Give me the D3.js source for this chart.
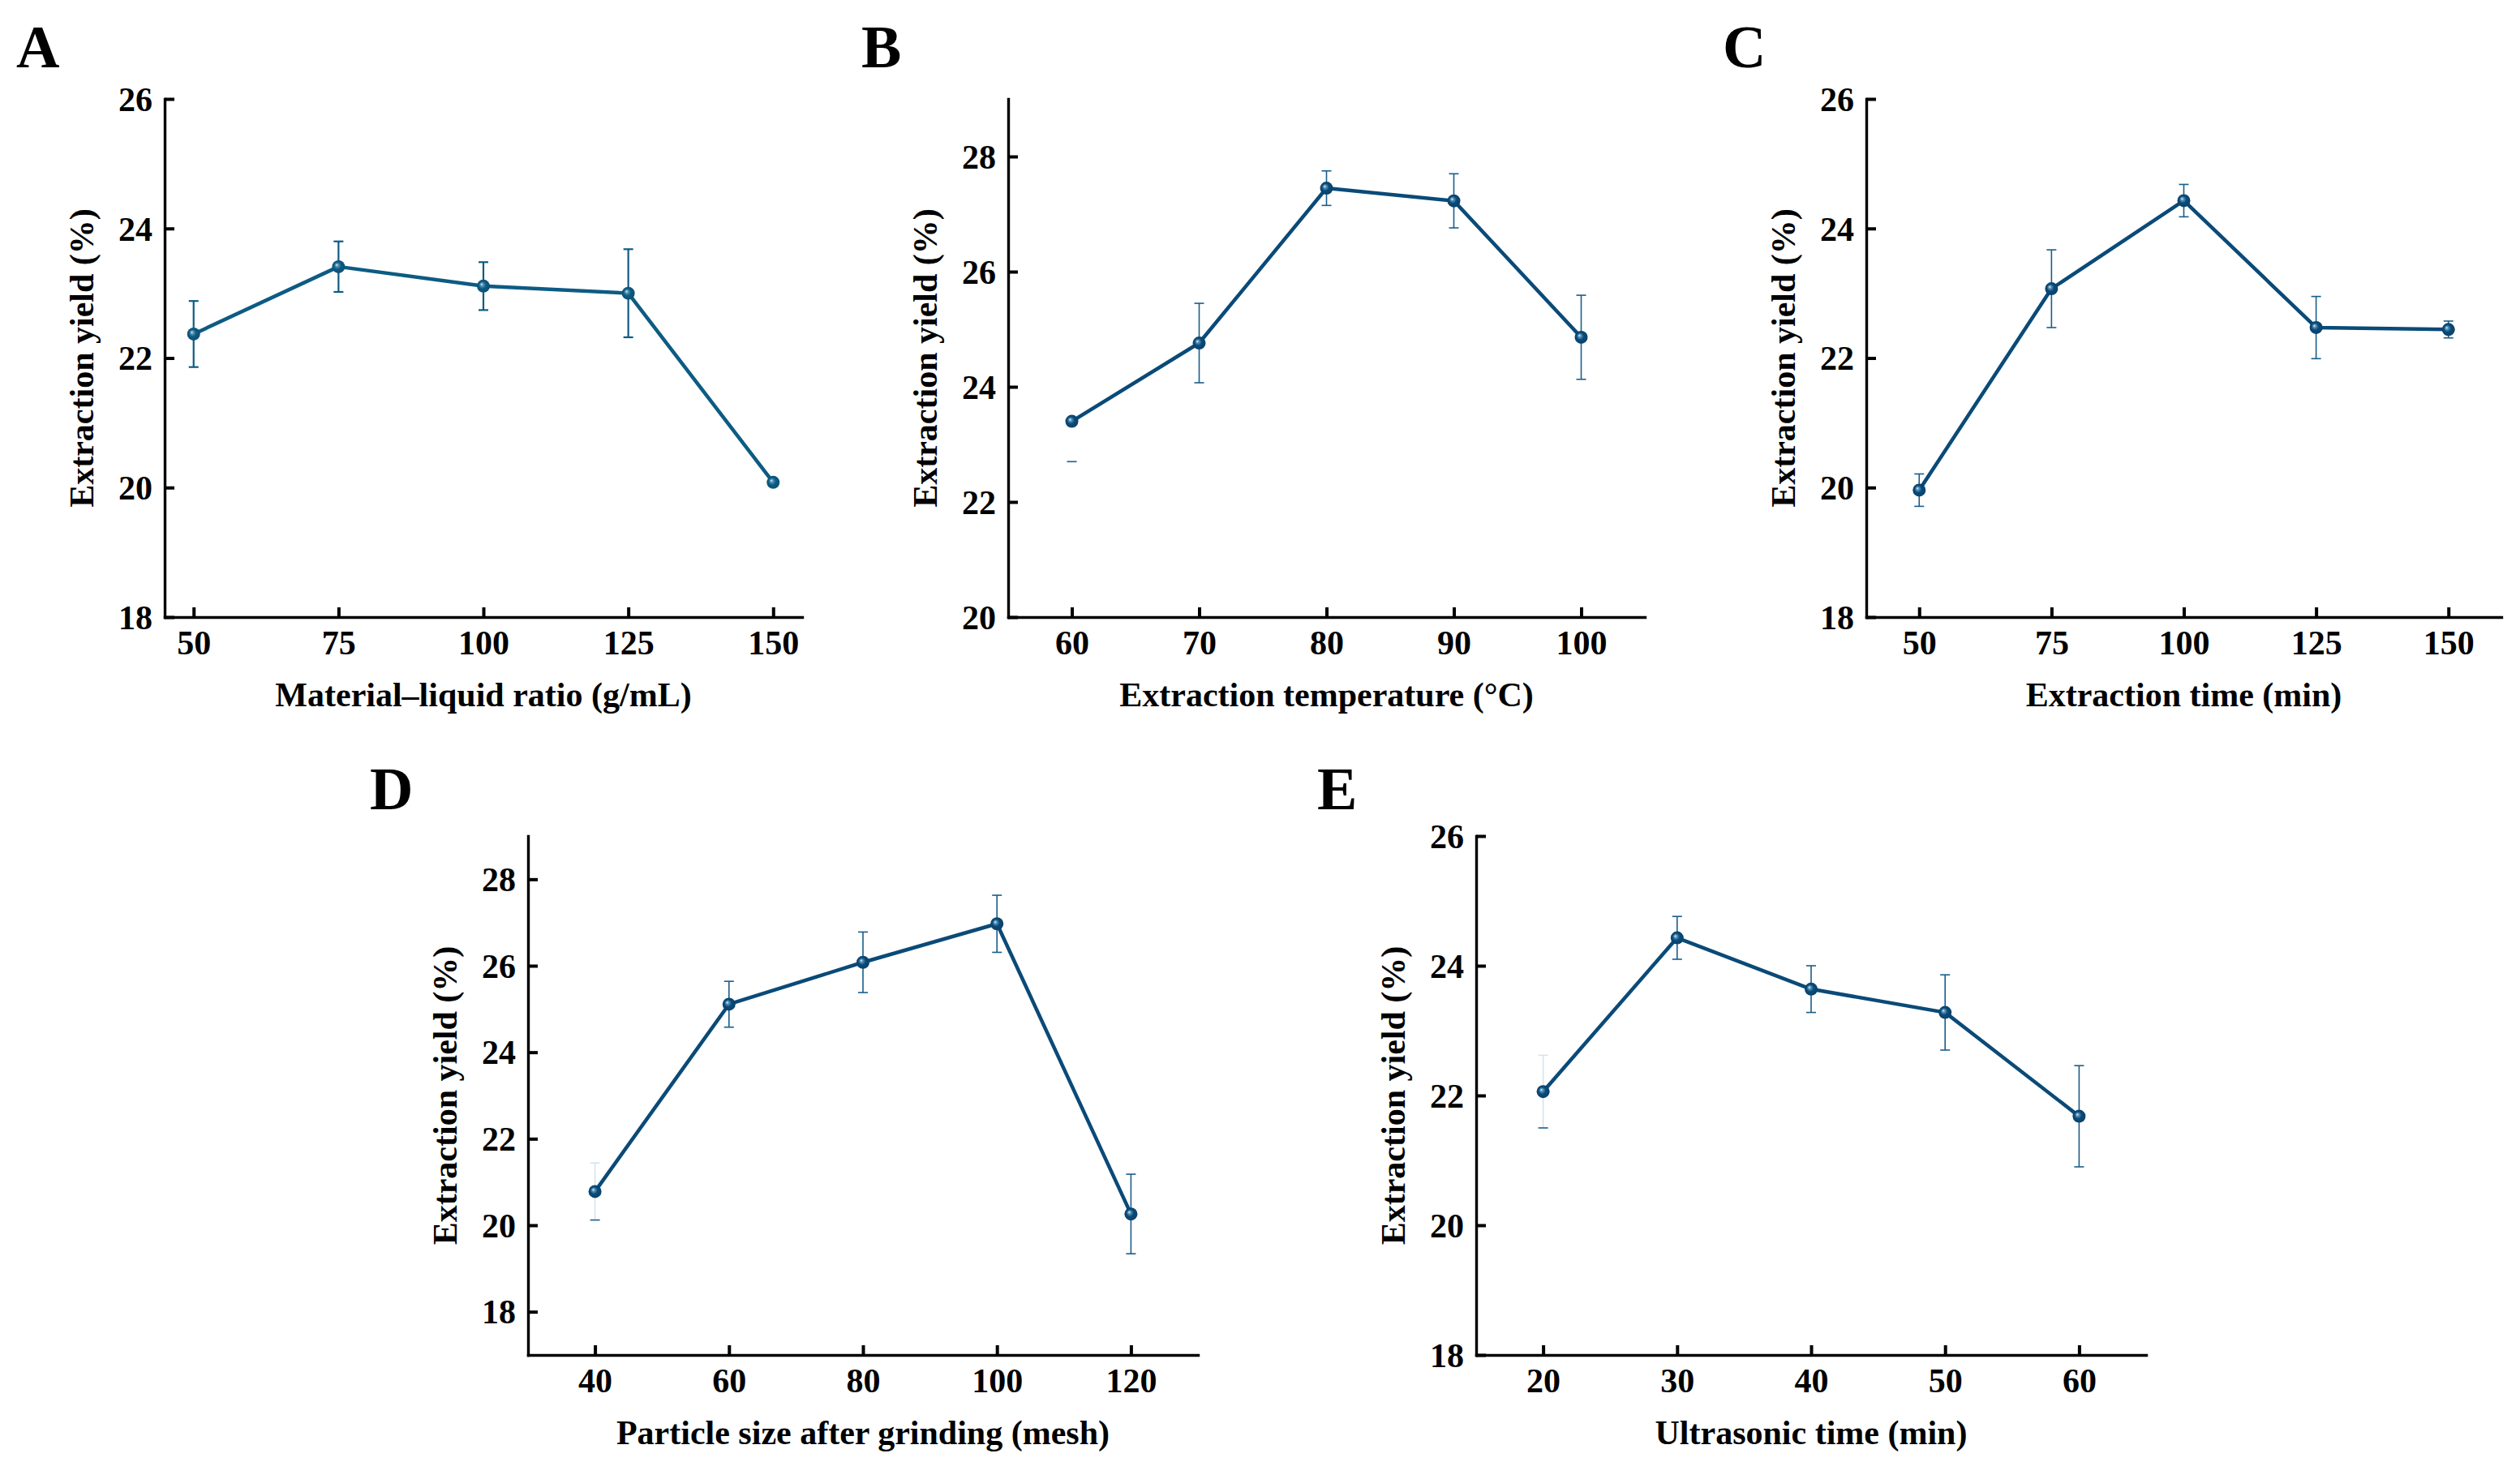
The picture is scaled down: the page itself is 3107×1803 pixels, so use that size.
<!DOCTYPE html>
<html>
<head>
<meta charset="utf-8">
<script src="https://cdn.jsdelivr.net/npm/d3@7"></script>
<style>
  body { margin: 0; background: #fff; }
  text { font-family: "Times New Roman", "Liberation Serif", serif; font-weight: bold; fill: #000; }
</style>
</head>
<body>
<script>
	// values (mean, +/- error)
	var ratioX   = [50, 75, 100, 125, 150];
	var ratioY   = [22.37, 23.41, 23.11, 23.0, 20.08];
	var ratioErr = [0.51, 0.39, 0.37, 0.68, 0.04];

	var tempX   = [60, 70, 80, 90, 100];
	var tempY   = [23.4, 24.76, 27.45, 27.23, 24.86];
	var tempErr = [0.7, 0.69, 0.3, 0.47, 0.73];

	var timeX   = [50, 75, 100, 125, 150];
	var timeY   = [19.96, 23.07, 24.43, 22.47, 22.44];
	var timeErr = [0.25, 0.6, 0.25, 0.48, 0.13];

	var meshX   = [40, 60, 80, 100, 120];
	var meshY   = [20.78, 25.11, 26.08, 26.97, 20.26];
	var meshErr = [0.66, 0.53, 0.7, 0.66, 0.92];

	var ultraX   = [20, 30, 40, 50, 60];
	var ultraY   = [22.06, 24.43, 23.64, 23.28, 21.68];
	var ultraErr = [0.56, 0.33, 0.36, 0.58, 0.78];

	var yLabel = "Extraction yield (%)";

	var panels = [
		{ letter: "A", xs: ratioX, ys: ratioY, err: ratioErr, xTitle: "Material\u2013liquid ratio (g/mL)",
		  xDom: [45, 155], yDom: [18, 26], yTicks: [18, 20, 22, 24, 26],
		  left: 203, top: 122, w: 786, h: 639, lx: -183, ly: -39,
		  color: "#0d5b83", errColor: "#0d5b83", errW: 2.2, firstFaint: null },
		{ letter: "B", xs: tempX, ys: tempY, err: tempErr, xTitle: "Extraction temperature (\u00b0C)",
		  xDom: [55, 105], yDom: [20, 29], yTicks: [20, 22, 24, 26, 28],
		  left: 1243, top: 122, w: 785, h: 639, lx: -181, ly: -39,
		  color: "#0a4a78", errColor: "#1a5d8a", errW: 1.6, firstFaint: "#ffffff" },
		{ letter: "C", xs: timeX, ys: timeY, err: timeErr, xTitle: "Extraction time (min)",
		  xDom: [40, 160], yDom: [18, 26], yTicks: [18, 20, 22, 24, 26],
		  left: 2301, top: 122, w: 783, h: 639, lx: -177, ly: -39,
		  color: "#0a4a78", errColor: "#1a5d8a", errW: 1.6, firstFaint: null },
		{ letter: "D", xs: meshX, ys: meshY, err: meshErr, xTitle: "Particle size after grinding (mesh)",
		  xDom: [30, 130], yDom: [17, 29], yTicks: [18, 20, 22, 24, 26, 28],
		  left: 651, top: 1031, w: 826, h: 640, lx: -195, ly: -33,
		  color: "#0a4a78", errColor: "#1a5d8a", errW: 1.6, firstFaint: "#d6e3ec" },
		{ letter: "E", xs: ultraX, ys: ultraY, err: ultraErr, xTitle: "Ultrasonic time (min)",
		  xDom: [15, 65], yDom: [18, 26], yTicks: [18, 20, 22, 24, 26],
		  left: 1820, top: 1031, w: 826, h: 640, lx: -196, ly: -33,
		  color: "#0a4a78", errColor: "#1a5d8a", errW: 1.6, firstFaint: "#d6e3ec" }
	];

	var svg = d3.select("body").append("svg")
		.attr("width", 3107)
		.attr("height", 1803);

	// sphere-like marker fill
	var defs = svg.append("defs");
	panels.forEach(function(p, i) {
		var grad = defs.append("radialGradient")
			.attr("id", "ball" + i)
			.attr("cx", "50%").attr("cy", "50%").attr("r", "55%")
			.attr("fx", "35%").attr("fy", "35%");
		grad.append("stop").attr("offset", "0%").attr("stop-color", "#eef7fc");
		grad.append("stop").attr("offset", "18%").attr("stop-color", "#5f9ac0");
		grad.append("stop").attr("offset", "50%").attr("stop-color", p.color);
		grad.append("stop").attr("offset", "100%").attr("stop-color", d3.color(p.color).darker(0.4));
	});

	panels.forEach(function(p, i) {
		var g = svg.append("g").attr("transform", "translate(" + p.left + "," + p.top + ")");

		var x = d3.scaleLinear().domain(p.xDom).range([0, p.w]);
		var y = d3.scaleLinear().domain(p.yDom).range([p.h, 0]);

		// axes, ticks pointing inward
		var xAxis = g.append("g")
			.attr("transform", "translate(0," + p.h + ")")
			.call(d3.axisBottom(x).tickValues(p.xs).tickSizeInner(-12).tickSizeOuter(0).tickPadding(16).tickFormat(d3.format("d")));
		var yAxis = g.append("g")
			.call(d3.axisLeft(y).tickValues(p.yTicks).tickSizeInner(-12).tickSizeOuter(0).tickPadding(15).tickFormat(d3.format("d")));

		[xAxis, yAxis].forEach(function(a) {
			a.select(".domain").attr("stroke", "#000").attr("stroke-width", 3.4).attr("stroke-linecap", "square");
			a.selectAll(".tick line").attr("stroke", "#000").attr("stroke-width", 4);
			a.selectAll(".tick text").style("font-size", "42px").attr("fill", "#000");
		});
		yAxis.selectAll(".tick text").attr("dy", "0.34em");

		// error bars
		var eb = g.append("g");
		p.xs.forEach(function(xv, j) {
			var cx = x(xv), hi = y(p.ys[j] + p.err[j]), lo = y(p.ys[j] - p.err[j]);
			var faint = (j === 0 && p.firstFaint) ? p.firstFaint : p.errColor;
			eb.append("line").attr("x1", cx).attr("x2", cx).attr("y1", hi).attr("y2", lo)
				.attr("stroke", faint).attr("stroke-width", p.errW);
			eb.append("line").attr("x1", cx - 6).attr("x2", cx + 6).attr("y1", hi).attr("y2", hi)
				.attr("stroke", faint).attr("stroke-width", p.errW);
			eb.append("line").attr("x1", cx - 6).attr("x2", cx + 6).attr("y1", lo).attr("y2", lo)
				.attr("stroke", p.errColor).attr("stroke-width", p.errW);
		});

		// line
		var line = d3.line()
			.x(function(d) { return x(d[0]); })
			.y(function(d) { return y(d[1]); });
		var pts = d3.zip(p.xs, p.ys);
		g.append("path")
			.datum(pts)
			.attr("fill", "none")
			.attr("stroke", p.color)
			.attr("stroke-width", 4.5)
			.attr("stroke-linejoin", "round")
			.attr("d", line);

		g.selectAll("circle")
			.data(pts)
			.enter()
			.append("circle")
			.attr("cx", function(d) { return x(d[0]); })
			.attr("cy", function(d) { return y(d[1]); })
			.attr("r", 8)
			.attr("fill", "url(#ball" + i + ")");

		// titles
		g.append("text")
			.attr("x", p.w / 2)
			.attr("y", p.h + 110)
			.attr("text-anchor", "middle")
			.style("font-size", "42px")
			.text(p.xTitle);

		g.append("text")
			.attr("transform", "translate(-88," + (p.h / 2) + ") rotate(-90)")
			.attr("text-anchor", "middle")
			.style("font-size", "42px")
			.text(yLabel);

		g.append("text")
			.attr("x", p.lx)
			.attr("y", p.ly)
			.style("font-size", "74px")
			.text(p.letter);
	});
</script>
</body>
</html>
